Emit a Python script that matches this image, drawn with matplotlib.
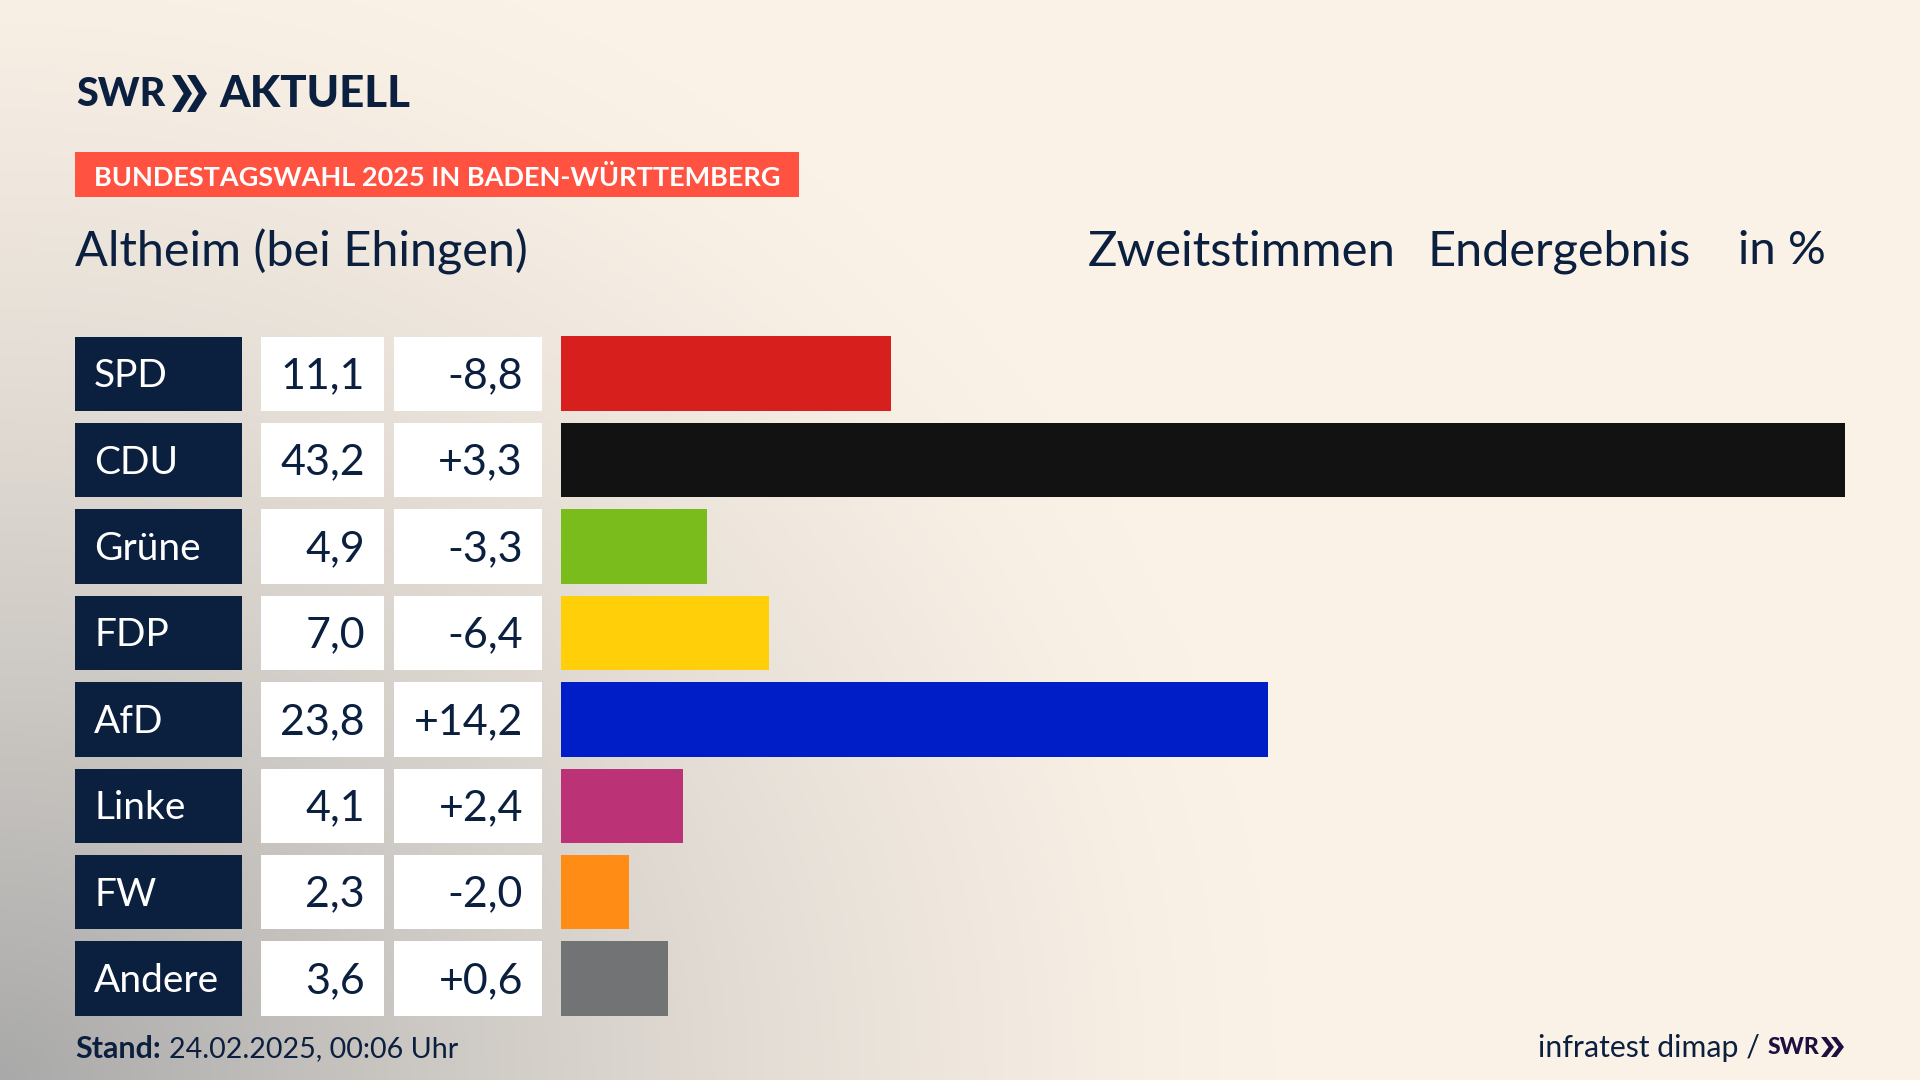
import numpy as np
import matplotlib
matplotlib.use("Agg")
import matplotlib.pyplot as plt
import matplotlib.patches as patches
from matplotlib.colors import LinearSegmentedColormap

parties = ["SPD", "CDU", "Grüne", "FDP", "AfD", "Linke", "FW", "Andere"]
results = [11.1, 43.2, 4.9, 7.0, 23.8, 4.1, 2.3, 3.6]
changes = ["-8,8", "+3,3", "-3,3", "-6,4", "+14,2", "+2,4", "-2,0", "+0,6"]
colors = ["#d71f1d", "#121212", "#7abc1b", "#ffcf0a", "#001ec8", "#bc3276", "#ff8c14", "#727374"]

W, H = 1920, 1080
NAVY = "#0b1f3f"
plt.rcParams["font.family"] = ["Lato", "DejaVu Sans"]

fig = plt.figure(figsize=(W / 100, H / 100), dpi=100)

# whole figure in pixels, y pointing down
bg = fig.add_axes([0, 0, 1, 1])
bg.set_xlim(0, W)
bg.set_ylim(H, 0)
bg.axis("off")

# soft grey shade out of the lower left corner
yy, xx = np.mgrid[0:H:270j, 0:W:480j]
shade = np.clip(1 - np.hypot(xx / 1300, (H - yy) / 1200), 0, 1) ** 1.4
cmap = LinearSegmentedColormap.from_list("bg", ["#fbf2e7", "#a9a9a9"])
bg.imshow(shade, cmap=cmap, vmin=0, vmax=1, extent=[0, W, H, 0], aspect="auto", zorder=0)
bg.set_xlim(0, W)
bg.set_ylim(H, 0)


def chevrons(x, y, w, h, gap, color):
    for i in range(2):
        x0 = x + i * gap
        pts = [(x0, y), (x0 + w * 0.42, y), (x0 + w, y + h / 2), (x0 + w * 0.42, y + h),
               (x0, y + h), (x0 + w * 0.58, y + h / 2)]
        bg.add_patch(patches.Polygon(pts, closed=True, fc=color, ec="none", zorder=3))


# header
bg.text(76, 94, "SWR", fontsize=28.5, fontweight="black", color=NAVY, va="center", ha="left")
chevrons(172, 75, 20, 37, 15, NAVY)
bg.text(219, 94, "AKTUELL", fontsize=31.5, fontweight="black", color=NAVY, va="center", ha="left")

bg.add_patch(patches.Rectangle((75, 152), 724, 45, fc="#ff5240", ec="none", zorder=2))
bg.text(94, 177, "BUNDESTAGSWAHL 2025 IN BADEN-WÜRTTEMBERG", fontsize=19.5, fontweight="bold",
        color="white", va="center", ha="left", zorder=3)

bg.text(75, 251.5, "Altheim (bei Ehingen)", fontsize=35, color=NAVY, va="center", ha="left")
bg.text(1088, 251.5, "Zweitstimmen", fontsize=35.4, color=NAVY, va="center", ha="left")
bg.text(1428, 251.5, "Endergebnis", fontsize=35, color=NAVY, va="center", ha="left")
bg.text(1738, 251.5, "in %", fontsize=34, color=NAVY, va="center", ha="left")

# bars
row_top = 336.5
row_h = 74.5
row_step = 86.4
n = len(parties)
plot_h = row_step * (n - 1) + row_h
ax = fig.add_axes([561 / W, 1 - (row_top + plot_h) / H, (1845 - 561) / W, plot_h / H])
ax.barh(range(n), results, height=row_h / row_step, color=colors)
ax.set_xlim(0, max(results))
ax.set_ylim(n - 1 + row_h / row_step / 2, -row_h / row_step / 2)
ax.axis("off")
ax.patch.set_alpha(0)

# table columns left of the bars
for i in range(n):
    top = row_top + i * row_step
    mid = top + row_h / 2 + 2.5
    bg.add_patch(patches.Rectangle((75, top), 167, row_h, fc=NAVY, ec="none", zorder=2))
    bg.add_patch(patches.Rectangle((261, top), 123, row_h, fc="white", ec="none", zorder=2))
    bg.add_patch(patches.Rectangle((394, top), 148, row_h, fc="white", ec="none", zorder=2))
    bg.text(94, mid, parties[i], fontsize=28, color="white", va="center", ha="left", zorder=3)
    bg.text(365, mid, f"{results[i]:.1f}".replace(".", ","), fontsize=31, color=NAVY,
            va="center", ha="right", zorder=3)
    bg.text(523, mid, changes[i], fontsize=31, color=NAVY, va="center", ha="right", zorder=3)

# footer
bg.text(75, 1049, "Stand:", fontsize=22, fontweight="bold", color=NAVY, va="center", ha="left")
bg.text(169, 1049, "24.02.2025, 00:06 Uhr", fontsize=20.6, color=NAVY, va="center", ha="left")
bg.text(1760, 1048, "infratest dimap /", fontsize=21.8, color=NAVY, va="center", ha="right")
bg.text(1768, 1047, "SWR", fontsize=16.5, fontweight="black", color="#1d0f3f", va="center", ha="left")
chevrons(1821, 1037, 13, 20, 10, "#1d0f3f")

fig.savefig("out.png", dpi=100)
